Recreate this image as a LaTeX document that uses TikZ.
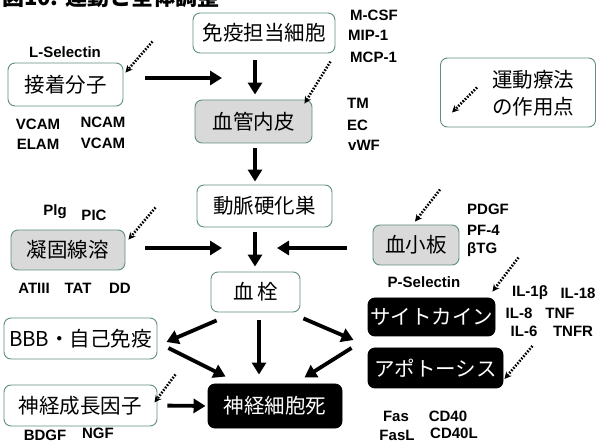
\documentclass[tikz,border=0pt]{standalone}
\usepackage{fontspec}
\setmainfont{Liberation Sans}
\newfontfamily\jp{Noto Sans CJK JP}
\usetikzlibrary{arrows.meta,calc}
\definecolor{boxline}{HTML}{5F8F7F}
\definecolor{boxgray}{HTML}{D9D9D9}
\begin{document}
\begin{tikzpicture}[x=1pt,y=-1pt,
  box/.style={draw=boxline, line width=0.9pt, rounded corners=7pt, fill=white,
    font=\jp\fontsize{20.5}{24}\selectfont, inner sep=0pt},
  gbox/.style={box, fill=boxgray},
  bbox/.style={box, fill=black, draw=black, text=white},
  lab/.style={font=\bfseries\fontsize{15}{16}\selectfont, inner sep=0pt},
  arr/.style={-{Triangle[length=12pt,width=14pt]}, line width=3.8pt},
  dotarr/.style={-{Stealth[length=7pt,width=7pt]}, line width=2.6pt, dash pattern=on 1.6pt off 1.5pt}]
\useasboundingbox (0,0) rectangle (597,443);
\fill[white] (0,0) rectangle (597,443);

% title (clipped at the top)
\node[anchor=base west, inner sep=0pt, font=\jp\bfseries\fontsize{22}{24}\selectfont] (title) at (2,6) {図10. 運動と全体調整};

% boxes
\node[box, minimum width=142, minimum height=40] (imm) at (264,33) {免疫担当細胞};
\node[box, minimum width=115, minimum height=43] (adh) at (65.5,84.5) {接着分子};
\node[gbox, minimum width=117, minimum height=43] (endo) at (253.5,121.5) {血管内皮};
\node[box, minimum width=155, minimum height=69] (legend) at (518,92.5) {};
\node[inner sep=0pt, align=center, font=\jp\fontsize{20.5}{27}\selectfont] (legtxt) at (533,93.5) {運動療法\\の作用点};
\node[box, minimum width=135, minimum height=42] (athero) at (264.5,206) {動脈硬化巣};
\node[gbox, minimum width=114, minimum height=40] (coag) at (68,250) {凝固線溶};
\node[gbox, minimum width=86, minimum height=40] (plate) at (416,245) {血小板};
\node[box, minimum width=89, minimum height=40] (thromb) at (255.5,292) {血\,栓};
\node[bbox, minimum width=127, minimum height=38] (cyto) at (431.5,317) {サイトカイン};
\node[bbox, minimum width=135, minimum height=40] (apop) at (435.5,368) {アポトーシス};
\node[box, minimum width=153, minimum height=41] (bbb) at (80.5,338.5) {BBB・自己免疫};
\node[box, minimum width=153, minimum height=41] (ngf) at (80.5,405.5) {神経成長因子};
\node[bbox, minimum width=134, minimum height=44] (death) at (275,406) {神経細胞死};

% labels
\node[lab] (lsel) at (65,52) {L-Selectin};
\node[lab, anchor=west] (mcsf) at (350,15) {M-CSF};
\node[lab, anchor=west] (mip) at (348,35) {MIP-1};
\node[lab, anchor=west] (mcp) at (350,57) {MCP-1};
\node[lab] (vcam1) at (38,124) {VCAM};
\node[lab] (ncam) at (103,122) {NCAM};
\node[lab] (elam) at (38,144) {ELAM};
\node[lab] (vcam2) at (103,143) {VCAM};
\node[lab, anchor=west] (tm) at (347,103) {TM};
\node[lab, anchor=west] (ec) at (347,125) {EC};
\node[lab, anchor=west] (vwf) at (348,145) {vWF};
\node[lab] (plg) at (55,212) {Plg};
\node[lab] (pic) at (94,215) {PIC};
\node[lab] (atiii) at (34,288) {ATIII};
\node[lab] (tat) at (78,288) {TAT};
\node[lab] (dd) at (120,288) {DD};
\node[lab, anchor=west] (pdgf) at (467,209) {PDGF};
\node[lab, anchor=west] (pf4) at (467,230) {PF-4};
\node[lab, anchor=west] (btg) at (467,250) {βTG};
\node[lab] (psel) at (424,282) {P-Selectin};
\node[lab] (il1b) at (530,293) {IL-1β};
\node[lab] (il18) at (578,293) {IL-18};
\node[lab] (il8) at (519,313) {IL-8};
\node[lab] (tnf) at (560,313) {TNF};
\node[lab] (il6) at (524,331) {IL-6};
\node[lab] (tnfr) at (573,331) {TNFR};
\node[lab] (fas) at (396,416) {Fas};
\node[lab] (cd40) at (448,416) {CD40};
\node[lab] (fasl) at (397,435) {FasL};
\node[lab] (cd40l) at (454,433) {CD40L};
\node[lab] (bdgf) at (45,435) {BDGF};
\node[lab] (ngfl) at (98,433) {NGF};

% junction points
\coordinate (j1) at (255,78);
\coordinate (j2) at (255,248);

% thick arrows
\draw[arr, shorten <=22pt, shorten >=33pt] (adh.east |- j1) -- (j1);
\draw[arr, shorten <=7pt, shorten >=5pt] (imm.south -| j1) -- (endo.north -| j1);
\draw[arr, shorten <=5pt, shorten >=3pt] (endo.south -| j1) -- (athero.north -| j1);
\draw[arr, shorten <=5pt, shorten >=5pt] (athero.south -| j2) -- (thromb.north -| j2);
\draw[arr, shorten <=20pt, shorten >=33pt] (coag.east |- j2) -- (j2);
\draw[arr, shorten <=26pt, shorten >=22pt] (plate.west |- j2) -- (j2);
\draw[arr] ($(thromb.south west)+(6,8)$) -- ($(bbb.east)+(9,3.5)$);
\draw[arr] ($(bbb.east)+(11,9.5)$) -- ($(death.north west)+(18,-7)$);
\draw[arr] ($(thromb.south)+(3.5,8)$) -- ($(death.north)+(-16,-9)$);
\draw[arr] ($(thromb.south east)+(3,6)$) -- ($(cyto.west)+(-14,23)$);
\draw[arr] ($(apop.west)+(-16,-20)$) -- ($(death.north east)+(-38,-6)$);
\draw[arr, shorten <=10pt, shorten >=2pt] (ngf.east) -- (death.west);

% dotted arrows (points of action of exercise)
\draw[dotarr] ($(adh.north east)+(29,-21)$) -- ($(adh.north east)+(2,10)$);
\draw[dotarr] ($(endo.north east)+(18,-38)$) -- ($(endo.north east)+(-8,4)$);
\draw[dotarr] ($(legend.west)+(37,-5)$) -- ($(legend.west)+(12,20)$);
\draw[dotarr] ($(coag.north east)+(30,-22)$) -- ($(coag.north east)+(3,10)$);
\draw[dotarr] ($(plate.north)+(24,-35)$) -- ($(plate.north)+(-1,-3)$);
\draw[dotarr] ($(cyto.north east)+(23,-40)$) -- ($(cyto.north east)+(-3,-6)$);
\draw[dotarr] ($(apop.east)+(29,-22)$) -- ($(apop.east)+(1,11)$);
\draw[dotarr] ($(ngf.east)+(18,-31)$) -- ($(ngf.east)+(-3,-3)$);
\end{tikzpicture}
\end{document}
